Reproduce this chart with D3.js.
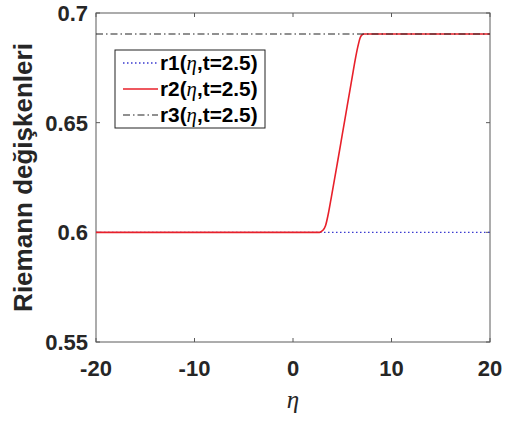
<!DOCTYPE html>
<html>
<head>
<meta charset="utf-8">
<script src="https://cdn.jsdelivr.net/npm/d3@7"></script>
<style>
body { margin: 0; background: #fff; }
</style>
</head>
<body>
<script>
// data
var eta1 = [-20, 20];
var r1 = [0.6, 0.6];

var eta2 = [-20, 2.7, 3.0, 3.3, 3.6, 3.9, 4.5, 5.0, 5.5, 6.0, 6.3, 6.6, 6.8, 7.0, 7.2, 20];
var r2 = [0.6, 0.6, 0.6008, 0.603, 0.6088, 0.6162, 0.6315, 0.6445, 0.6575, 0.6705, 0.6783, 0.685, 0.6885, 0.69, 0.6904, 0.6904];

var eta3 = [-20, 20];
var r3 = [0.6904, 0.6904];

var xTicks = [-20, -10, 0, 10, 20];
var yTicks = [0.55, 0.6, 0.65, 0.7];
var legendNames = ["r1", "r2", "r3"];

var width = 505, height = 423;
var pLeft = 96, pRight = 490, pTop = 13, pBottom = 342;

var svg = d3.select("body").append("svg")
	.attr("width", width)
	.attr("height", height);

var x = d3.scaleLinear().domain([-20, 20]).range([pLeft, pRight]);
var y = d3.scaleLinear().domain([0.55, 0.7]).range([pBottom, pTop]);

var axisColor = "#5a5a5a";
var textColor = "#262626";

// box
svg.append("rect")
	.attr("x", pLeft).attr("y", pTop)
	.attr("width", pRight - pLeft).attr("height", pBottom - pTop)
	.attr("fill", "none").attr("stroke", axisColor).attr("stroke-width", 1);

// ticks inward, on all four sides
var tl = 4;
xTicks.forEach(function(t) {
	svg.append("line").attr("x1", x(t)).attr("x2", x(t)).attr("y1", pBottom).attr("y2", pBottom - tl).attr("stroke", axisColor);
	svg.append("line").attr("x1", x(t)).attr("x2", x(t)).attr("y1", pTop).attr("y2", pTop + tl).attr("stroke", axisColor);
	svg.append("text").attr("x", x(t)).attr("y", 376)
		.attr("text-anchor", "middle")
		.attr("font-family", "Liberation Sans, Arial, sans-serif")
		.attr("font-weight", "bold").attr("font-size", 22)
		.attr("fill", textColor)
		.text(t);
});
yTicks.forEach(function(t) {
	svg.append("line").attr("x1", pLeft).attr("x2", pLeft + tl).attr("y1", y(t)).attr("y2", y(t)).attr("stroke", axisColor);
	svg.append("line").attr("x1", pRight).attr("x2", pRight - tl).attr("y1", y(t)).attr("y2", y(t)).attr("stroke", axisColor);
	svg.append("text").attr("x", pLeft - 8).attr("y", y(t) + 8)
		.attr("text-anchor", "end")
		.attr("font-family", "Liberation Sans, Arial, sans-serif")
		.attr("font-weight", "bold").attr("font-size", 22)
		.attr("fill", textColor)
		.text(d3.format("")(t));
});

// axis labels
svg.append("text")
	.attr("transform", "translate(32," + ((pTop + pBottom) / 2) + ") rotate(-90)")
	.attr("text-anchor", "middle")
	.attr("font-family", "Liberation Sans, Arial, sans-serif")
	.attr("font-weight", "bold").attr("font-size", 26)
	.attr("fill", textColor)
	.text("Riemann değişkenleri");

svg.append("text")
	.attr("x", (pLeft + pRight) / 2).attr("y", 408)
	.attr("text-anchor", "middle")
	.attr("font-family", "Liberation Serif, Times New Roman, serif")
	.attr("font-style", "italic").attr("font-size", 25)
	.attr("fill", textColor)
	.text("η");

// curves
var line = d3.line()
	.x(function(d) { return x(d[0]); })
	.y(function(d) { return y(d[1]); })
	.curve(d3.curveMonotoneX);

var series = [
	{ eta: eta1, r: r1, color: "#3a3ad0", dash: "1.5,2.5", w: 1.3 },
	{ eta: eta2, r: r2, color: "#e8202a", dash: null, w: 1.6 },
	{ eta: eta3, r: r3, color: "#222", dash: "7,3,1.5,3", w: 1.1 }
];

series.forEach(function(s) {
	svg.append("path")
		.attr("d", line(d3.zip(s.eta, s.r)))
		.attr("fill", "none")
		.attr("stroke", s.color)
		.attr("stroke-width", s.w)
		.attr("stroke-dasharray", s.dash);
});

// legend
var lg = svg.append("g");
lg.append("rect")
	.attr("x", 115).attr("y", 50).attr("width", 150).attr("height", 78)
	.attr("fill", "#fff").attr("stroke", "#222").attr("stroke-width", 1);

series.forEach(function(s, i) {
	var cy = 63 + i * 26;
	lg.append("line")
		.attr("x1", 123).attr("x2", 158).attr("y1", cy).attr("y2", cy)
		.attr("stroke", s.color).attr("stroke-width", s.w)
		.attr("stroke-dasharray", s.dash);
	var t = lg.append("text")
		.attr("x", 160).attr("y", cy + 7)
		.attr("font-family", "Liberation Sans, Arial, sans-serif")
		.attr("font-weight", "bold").attr("font-size", 20.8)
		.attr("fill", "#000");
	t.append("tspan").text(legendNames[i] + "(");
	t.append("tspan")
		.attr("font-family", "Liberation Serif, Times New Roman, serif")
		.attr("font-style", "italic").attr("font-weight", "normal")
		.text("η");
	t.append("tspan").text(",t=2.5)");
});
</script>
</body>
</html>
